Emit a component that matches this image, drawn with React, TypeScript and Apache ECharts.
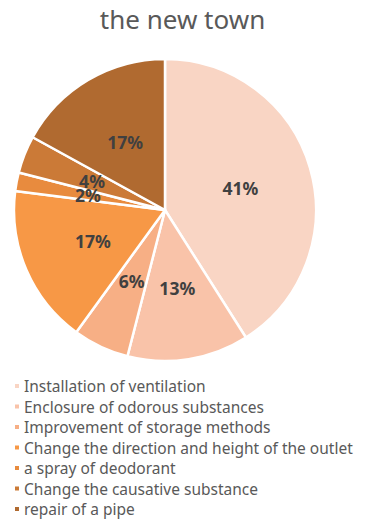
import React, { useEffect, useRef } from "react";
import * as echarts from "echarts";

const categories = [
  "Installation of ventilation",
  "Enclosure of odorous substances",
  "Improvement of storage methods",
  "Change the direction and height of the outlet",
  "a spray of deodorant",
  "Change the causative substance",
  "repair of a pipe",
];
const values = [41, 13, 6, 17, 2, 4, 17];
const colors = ["#F9D5C4", "#F9C3A9", "#F7AF85", "#F79846", "#E88B3E", "#CB7A37", "#B06A30"];

export default function App() {
  const ref = useRef<HTMLDivElement>(null);
  useEffect(() => {
    if (!ref.current) return;
    const chart = echarts.init(ref.current, undefined, { renderer: "svg" });
    const font = "'Noto Sans', 'Open Sans', sans-serif";
    chart.setOption({
      animation: false,
      title: {
        text: "the new town",
        left: "center",
        top: 6,
        padding: 0,
        textStyle: { fontSize: 26, fontWeight: "normal", color: "#595959", fontFamily: font },
      },
      legend: {
        orient: "vertical",
        left: 8,
        top: 373,
        height: 150,
        itemWidth: 6,
        itemHeight: 6,
        itemGap: 4.5,
        icon: "rect",
        textStyle: { fontSize: 15.5, color: "#595959", fontFamily: font, lineHeight: 15, padding: [0, 0, 0, -1] },
        data: categories,
      },
      series: [
        {
          type: "pie",
          center: [165, 210],
          radius: ["0%", 151],
          startAngle: 90,
          clockwise: true,
          data: categories.map((c, i) => ({ name: c, value: values[i], itemStyle: { color: colors[i] } })),
          itemStyle: { borderColor: "#ffffff", borderWidth: 2.5 },
          label: {
            show: true,
            position: "inside",
            formatter: "{d}%",
            fontSize: 17.5,
            fontWeight: "bold",
            color: "#404040",
            fontFamily: font,
          },
          labelLayout: { hideOverlap: false },
          labelLine: { show: false },
          emphasis: { disabled: true },
        },
      ],
    });
    return () => chart.dispose();
  }, []);
  return <div ref={ref} style={{ position: "absolute", left: 0, top: 0, width: 365, height: 522 }} />;
}
